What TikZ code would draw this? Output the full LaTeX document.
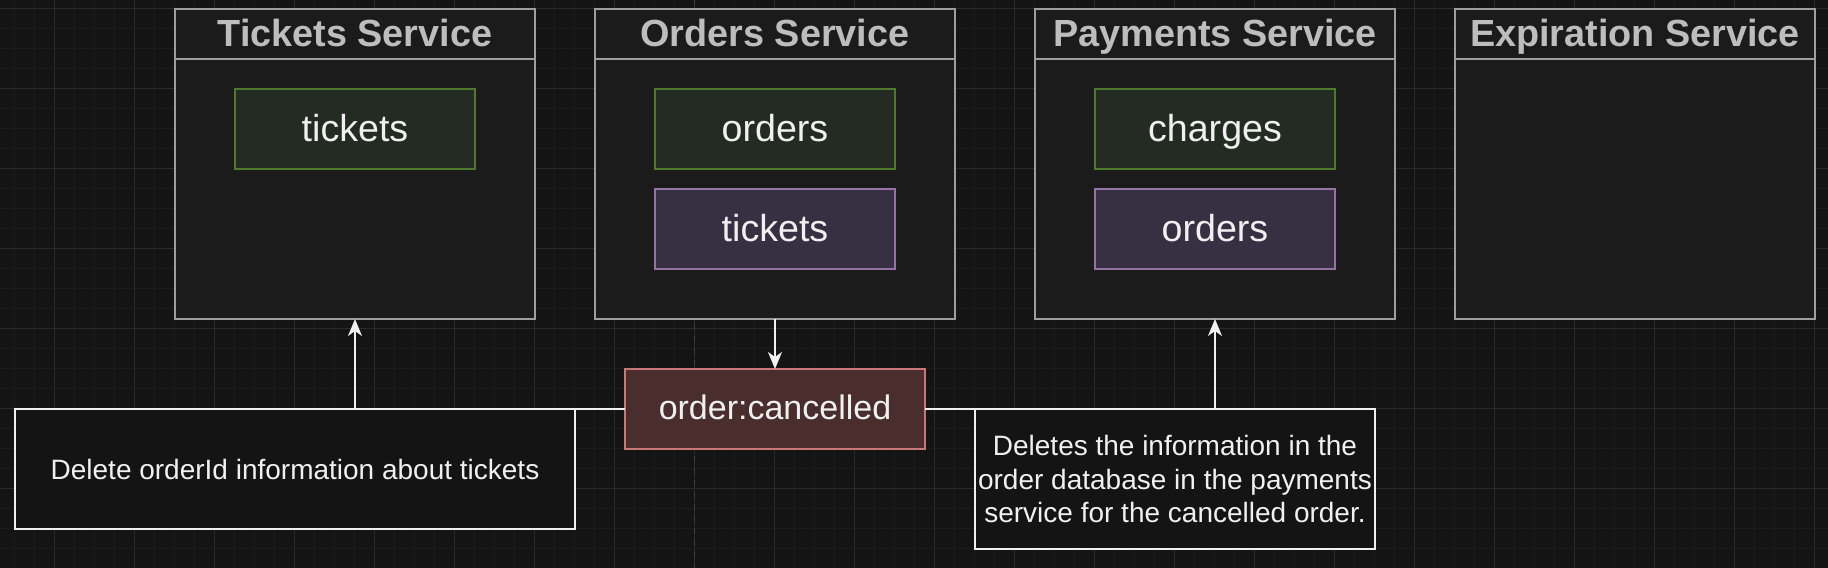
\documentclass[tikz,border=0pt]{standalone}
\usepackage{fontspec}
\setmainfont{Liberation Sans}
\usetikzlibrary{arrows.meta}

\definecolor{bgdark}{HTML}{141414}
\definecolor{gridminor}{HTML}{1C1C1C}
\definecolor{gridmajor}{HTML}{2A2A2A}
\definecolor{pageline}{HTML}{3E3E3E}
\definecolor{svcfill}{HTML}{1B1B1B}
\definecolor{svcline}{HTML}{9E9E9E}
\definecolor{svctext}{HTML}{BDBDBD}
\definecolor{dbgreenfill}{HTML}{232B22}
\definecolor{dbgreenline}{HTML}{4F7A2E}
\definecolor{dbpurplefill}{HTML}{372F42}
\definecolor{dbpurpleline}{HTML}{9673A6}
\definecolor{evfill}{HTML}{4A2E2E}
\definecolor{evline}{HTML}{C87878}
\definecolor{notetext}{HTML}{F0F0F0}

\begin{document}
\begin{tikzpicture}[x=0.5pt, y=-0.5pt,
		svc/.style = {draw=svcline, fill=svcfill, line width=0.8pt, outer sep=0pt, inner sep=0pt,
			minimum width=180pt, minimum height=155pt},
		svctitle/.style = {anchor=base, text=svctext, font=\bfseries\fontsize{18.9pt}{22pt}\selectfont, inner sep=0pt},
		dbbox/.style = {line width=0.8pt, outer sep=0pt, minimum width=120pt, minimum height=40pt,
			text height=13.5pt, text depth=0.6pt, text=notetext, font=\fontsize{18.8pt}{22pt}\selectfont},
		dbmain/.style = {dbbox, draw=dbgreenline, fill=dbgreenfill},
		dbcopy/.style = {dbbox, draw=dbpurpleline, fill=dbpurplefill},
		event/.style = {draw=evline, fill=evfill, line width=0.8pt, outer sep=0pt,
			minimum width=150pt, minimum height=40pt, text height=12.2pt, text depth=2.2pt,
			text=notetext, font=\fontsize{17pt}{20pt}\selectfont},
		note/.style = {draw=notetext, fill=bgdark, line width=0.9pt, outer sep=0pt, inner sep=0pt,
			align=center, text=notetext, font=\fontsize{14pt}{16.7pt}\selectfont},
		arr/.style = {draw=notetext, line width=0.9pt, -{Stealth[length=8.5pt, width=7pt, inset=2.5pt]}}]
				% background and grid
				\fill[bgdark] (0,0) rectangle (1828,568);
				\useasboundingbox (0,0) rectangle (1828,568);
				\foreach \gx in {14.5,34.5,...,1828} {
					\draw[gridminor, line width=0.5pt] (\gx,0) -- (\gx,568);
				}
				\foreach \gy in {8.3,28.3,...,568} {
					\draw[gridminor, line width=0.5pt] (0,\gy) -- (1828,\gy);
				}
				\foreach \gx in {54.5,134.5,...,1828} {
					\draw[gridmajor, line width=0.5pt] (\gx,0) -- (\gx,568);
				}
				\foreach \gy in {8.3,88.3,...,568} {
					\draw[gridmajor, line width=0.5pt] (0,\gy) -- (1828,\gy);
				}
				\draw[pageline, dashed, line width=0.6pt] (694.5,0) -- (694.5,568);

				% services
				\node[svc] (tsvc) at (355,164) {};
				\node[svc] (osvc) at (775,164) {};
				\node[svc] (psvc) at (1215,164) {};
				\node[svc] (esvc) at (1635,164) {};
				\foreach \s in {tsvc,osvc,psvc,esvc} {
					\draw[svcline, line width=0.8pt] (\s.north west) ++(0,50) -- ++(360,0);
				}
				\node[svctitle] (ttitle) at (355,46.7) {Tickets Service};
				\node[svctitle] (otitle) at (775,46.7) {Orders Service};
				\node[svctitle] (ptitle) at (1215,46.7) {Payments Service};
				\node[svctitle] (etitle) at (1635,46.7) {Expiration Service};

				% collections
				\node[dbmain] (tickets) at (355,128.8) {tickets};
				\node[dbmain] (orders) at (775,128.8) {orders};
				\node[dbcopy] (otickets) at (775,228.9) {tickets};
				\node[dbmain] (charges) at (1215,128.8) {charges};
				\node[dbcopy] (porders) at (1215,228.9) {orders};

				% event
				\node[event] (cncl) at (775,409) {order:cancelled};
				\draw[arr] (osvc.south) -- (cncl.north);
				\draw[arr] (cncl.west) -| (tsvc.south);
				\draw[arr] (cncl.east) -| (psvc.south);

				% notes
				\node[note, minimum width=280pt, minimum height=60pt] (tnote) at (295,469)
					{Delete orderId information about tickets};
				\node[note, minimum width=200pt, minimum height=70pt] (pnote) at (1175,479)
					{Deletes the information in the\\order database in the payments\\service for the cancelled order.};
			\end{tikzpicture}
\end{document}
